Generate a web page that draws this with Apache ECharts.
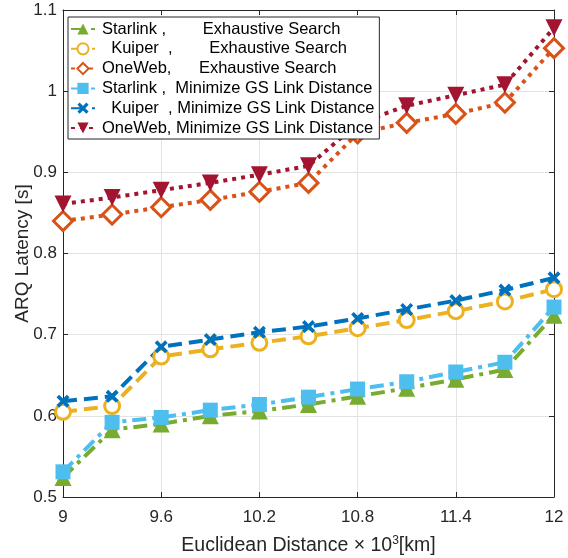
<!DOCTYPE html>
<html>
<head>
<meta charset="utf-8">
<script src="https://cdn.jsdelivr.net/npm/echarts@6/dist/echarts.min.js"></script>
<style>
  html, body {margin:0; padding:0; background:#fff;}
  #root {width:568px; height:558px;}
</style>
</head>
<body>
<div id="root"></div>
<script>
const distance = [9, 9.3, 9.6, 9.9, 10.2, 10.5, 10.8, 11.1, 11.4, 11.7, 12];

const starlinkExh = [0.524, 0.583, 0.590, 0.600, 0.606, 0.614, 0.624, 0.634, 0.645, 0.657, 0.724];
const kuiperExh   = [0.605, 0.612, 0.673, 0.682, 0.690, 0.698, 0.708, 0.718, 0.729, 0.741, 0.756];
const onewebExh   = [0.840, 0.848, 0.857, 0.866, 0.876, 0.887, 0.948, 0.961, 0.972, 0.986, 1.053];
const starlinkMin = [0.531, 0.592, 0.598, 0.607, 0.614, 0.623, 0.633, 0.642, 0.654, 0.666, 0.734];
const kuiperMin   = [0.618, 0.624, 0.685, 0.694, 0.703, 0.710, 0.720, 0.731, 0.742, 0.755, 0.770];
const onewebMin   = [0.861, 0.869, 0.878, 0.887, 0.897, 0.908, 0.960, 0.982, 0.995, 1.008, 1.078];

const names = [
    "Starlink ,        Exhaustive Search",
    "  Kuiper  ,        Exhaustive Search",
    "OneWeb,      Exhaustive Search",
    "Starlink ,  Minimize GS Link Distance",
    "  Kuiper  , Minimize GS Link Distance",
    "OneWeb, Minimize GS Link Distance"
];

const FONT = "Liberation Sans";
const DOTTED = [4, 5];
const DASHED = [14, 7];
const DASHDOT = [14, 6, 4, 6];
const XMARK = "path://M2,0 L5,3 L8,0 L10,2 L7,5 L10,8 L8,10 L5,7 L2,10 L0,8 L3,5 L0,2 Z";

function pairs(ys) {
    return distance.map(function(x, i) { return [x, ys[i]]; });
}

function makeSeries(name, ys, color, dash, symbol, size, open, rotate) {
    return {
        name: name,
        type: 'line',
        data: pairs(ys),
        symbol: symbol,
        symbolSize: size,
        symbolRotate: rotate || 0,
        showAllSymbol: true,
        lineStyle: {color: color, width: 4, type: dash, cap: 'butt'},
        itemStyle: open
            ? {color: '#ffffff', borderColor: color, borderWidth: 3}
            : {color: color, borderColor: color, borderWidth: 0},
        emphasis: {disabled: true},
        animation: false
    };
}

const myChart = echarts.init(document.getElementById('root'), null, {renderer: 'canvas'});

const option = {
    backgroundColor: '#ffffff',
    textStyle: {fontFamily: FONT},
    grid: {left: 63, right: 14, top: 10, bottom: 61, outerBoundsMode: 'none', containLabel: false},
    legend: {
        orient: 'vertical',
        left: 68,
        top: 17,
        padding: [3, 5, 2, 2],
        itemWidth: 24,
        itemHeight: 14,
        itemGap: 1.8,
        backgroundColor: '#ffffff',
        borderColor: '#262626',
        borderWidth: 1,
        textStyle: {fontFamily: FONT, fontSize: 16.5, lineHeight: 18, color: '#000000', padding: [0, 0, 0, 2]},
        data: names
    },
    xAxis: [
        {
            type: 'value', min: 9, max: 12, interval: 0.6,
            name: '{a|Euclidean Distance × 10}{s|3}{a|[km]}',
            nameLocation: 'middle', nameGap: 38, nameMoveOverlap: false,
            nameTextStyle: {
                rich: {
                    a: {fontFamily: FONT, fontSize: 19.5, color: '#262626', verticalAlign: 'bottom'},
                    s: {fontFamily: FONT, fontSize: 12, color: '#262626', verticalAlign: 'top', padding: [0, 0, 9, 0]}
                }
            },
            axisLine: {lineStyle: {color: '#262626', width: 1}},
            axisTick: {inside: true, length: 5, lineStyle: {color: '#262626'}},
            axisLabel: {fontFamily: FONT, fontSize: 17, color: '#262626', margin: 12},
            splitLine: {show: true, lineStyle: {color: '#e3e3e3', width: 1}}
        },
        {
            type: 'value', min: 9, max: 12, interval: 0.6, position: 'top',
            axisLine: {lineStyle: {color: '#262626', width: 1}},
            axisTick: {inside: true, length: 5, lineStyle: {color: '#262626'}},
            axisLabel: {show: false},
            splitLine: {show: false}
        }
    ],
    yAxis: [
        {
            type: 'value', min: 0.5, max: 1.1, interval: 0.1,
            name: 'ARQ Latency [s]',
            nameLocation: 'middle', nameGap: 31, nameMoveOverlap: false,
            nameTextStyle: {fontFamily: FONT, fontSize: 19, color: '#262626'},
            axisLine: {show: true, lineStyle: {color: '#262626', width: 1}},
            axisTick: {inside: true, length: 5, lineStyle: {color: '#262626'}},
            axisLabel: {
                fontFamily: FONT, fontSize: 17, color: '#262626', margin: 6,
                formatter: function(v) { return String(Math.round(v * 10) / 10); }
            },
            splitLine: {show: true, lineStyle: {color: '#e3e3e3', width: 1}}
        },
        {
            type: 'value', min: 0.5, max: 1.1, interval: 0.1, position: 'right',
            axisLine: {show: true, lineStyle: {color: '#262626', width: 1}},
            axisTick: {inside: true, length: 5, lineStyle: {color: '#262626'}},
            axisLabel: {show: false},
            splitLine: {show: false}
        }
    ],
    series: [
        makeSeries(names[0], starlinkExh, '#77AC30', DASHDOT, 'triangle', 17, false),
        makeSeries(names[1], kuiperExh,   '#EDB120', DASHED,  'circle',   15, true),
        makeSeries(names[2], onewebExh,   '#D95319', DOTTED,  'diamond',  19, true),
        makeSeries(names[3], starlinkMin, '#4DBEEE', DASHDOT, 'rect',     15, false),
        makeSeries(names[4], kuiperMin,   '#0072BD', DASHED,  XMARK,      13, false),
        makeSeries(names[5], onewebMin,   '#A2142F', DOTTED,  'triangle', 17, false, 180)
    ]
};

myChart.setOption(option);
</script>
</body>
</html>
